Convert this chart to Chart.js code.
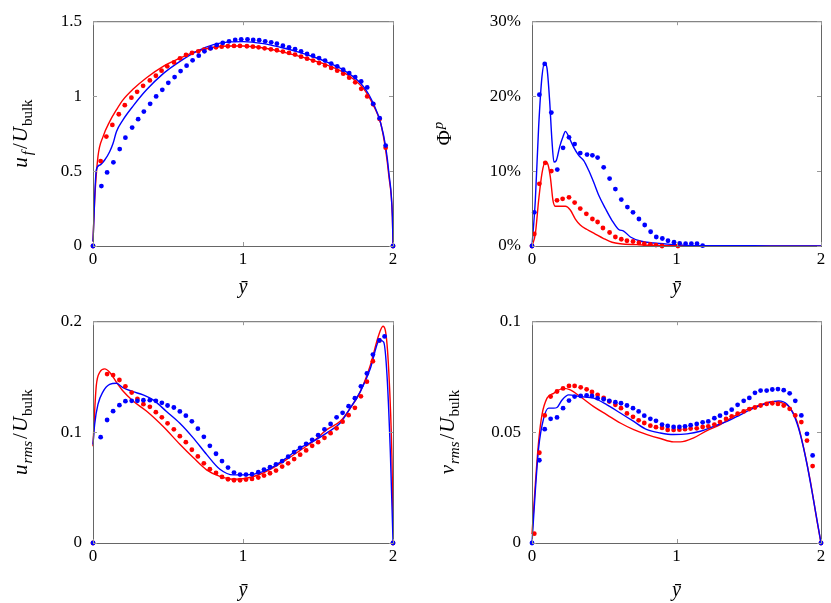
<!DOCTYPE html>
<html>
<head>
<meta charset="utf-8">
<script src="https://cdn.jsdelivr.net/npm/chart.js@4.4.1/dist/chart.umd.min.js"></script>
<style>
  body { margin: 0; background: #fff; }
  canvas { position: absolute; }
</style>
</head>
<body>
<canvas id="c1" width="420" height="300" style="left:0;top:0"></canvas>
<canvas id="c2" width="411" height="300" style="left:420px;top:0"></canvas>
<canvas id="c3" width="420" height="303" style="left:0;top:300px"></canvas>
<canvas id="c4" width="411" height="303" style="left:420px;top:300px"></canvas>
<script>
// ---- data, [ybar, value] ----
// mean velocity u_f/U_bulk
const ufRedLine = [[0,0.03],[0.011,0.306],[0.033,0.596],[0.067,0.73],[0.111,0.83],[0.156,0.908],[0.2,0.975],[0.268,1.047],[0.357,1.123],[0.468,1.199],[0.58,1.254],[0.691,1.299],[0.803,1.326],[0.914,1.335],[1.003,1.335],[1.137,1.321],[1.249,1.299],[1.36,1.27],[1.472,1.237],[1.583,1.199],[1.695,1.143],[1.806,1.047],[1.873,0.931],[1.918,0.819],[1.951,0.641],[1.973,0.462],[1.996,0.194],[2,0.02]];
const ufBlueLine = [[0,0.03],[0.022,0.507],[0.045,0.54],[0.078,0.574],[0.111,0.629],[0.134,0.685],[0.156,0.763],[0.2,0.842],[0.268,0.935],[0.357,1.042],[0.468,1.15],[0.58,1.232],[0.691,1.299],[0.803,1.344],[0.914,1.362],[1.003,1.364],[1.137,1.35],[1.249,1.326],[1.36,1.297],[1.472,1.261],[1.583,1.217],[1.695,1.158],[1.806,1.06],[1.873,0.942],[1.918,0.819],[1.951,0.663],[1.973,0.484],[1.996,0.194],[2,0.02]];
const ufRedDots = [[0,0],[0.051,0.567],[0.089,0.73],[0.129,0.808],[0.172,0.879],[0.212,0.94],[0.256,0.99],[0.294,1.029],[0.334,1.069],[0.379,1.105],[0.419,1.136],[0.457,1.17],[0.495,1.199],[0.54,1.225],[0.58,1.252],[0.62,1.275],[0.66,1.288],[0.702,1.299],[0.74,1.31],[0.78,1.319],[0.82,1.326],[0.858,1.33],[0.899,1.333],[0.94,1.335],[0.98,1.335],[1.026,1.333],[1.066,1.33],[1.104,1.326],[1.144,1.319],[1.186,1.312],[1.226,1.306],[1.266,1.297],[1.307,1.288],[1.347,1.277],[1.387,1.263],[1.427,1.25],[1.467,1.237],[1.507,1.221],[1.547,1.205],[1.588,1.188],[1.628,1.17],[1.668,1.15],[1.708,1.123],[1.748,1.092],[1.788,1.049],[1.828,0.998],[1.868,0.946],[1.911,0.848],[1.951,0.656],[2,0]];
const ufBlueDots = [[0,0],[0.056,0.4],[0.094,0.491],[0.136,0.558],[0.178,0.647],[0.216,0.723],[0.261,0.79],[0.301,0.846],[0.339,0.897],[0.381,0.949],[0.421,0.998],[0.462,1.042],[0.502,1.089],[0.544,1.127],[0.584,1.167],[0.624,1.203],[0.664,1.239],[0.705,1.27],[0.743,1.299],[0.785,1.319],[0.825,1.342],[0.865,1.355],[0.907,1.366],[0.948,1.375],[0.988,1.379],[1.03,1.379],[1.068,1.375],[1.108,1.373],[1.148,1.366],[1.188,1.359],[1.226,1.35],[1.266,1.337],[1.307,1.326],[1.347,1.313],[1.387,1.299],[1.427,1.281],[1.467,1.27],[1.507,1.254],[1.547,1.237],[1.588,1.217],[1.628,1.199],[1.668,1.176],[1.708,1.154],[1.748,1.127],[1.788,1.098],[1.828,1.058],[1.868,0.949],[1.911,0.853],[1.951,0.67],[2,0]];

// particle volume fraction Phi^p (%)
const phiRedLine = [[0,0],[0.023,1.6],[0.046,6.1],[0.069,9.7],[0.092,11.2],[0.108,11.0],[0.127,9.2],[0.145,6.1],[0.162,5.3],[0.196,5.3],[0.231,5.3],[0.265,4.8],[0.3,3.6],[0.334,2.8],[0.381,2.2],[0.438,1.6],[0.496,1.0],[0.554,0.5],[0.611,0.3],[0.727,0.18],[0.842,0.09],[1.073,0.04],[1.5,0.02],[2,0]];
const phiBlueLine = [[0,0],[0.023,6.1],[0.046,15.9],[0.069,22.6],[0.088,24.4],[0.104,23.7],[0.122,19.4],[0.138,14.1],[0.152,11.2],[0.168,11.4],[0.191,13.2],[0.215,14.6],[0.231,15.3],[0.254,14.6],[0.288,13.2],[0.323,12.1],[0.358,11.4],[0.392,10.1],[0.427,8.5],[0.461,6.8],[0.508,5.0],[0.554,3.4],[0.6,2.2],[0.634,2.0],[0.681,1.2],[0.75,0.67],[0.842,0.4],[0.957,0.22],[1.073,0.09],[1.303,0.04],[1.534,0.04],[1.765,0],[2,0]];
const phiRedDots = [[0,0],[0.016,1.6],[0.051,8.3],[0.092,11.1],[0.134,10.0],[0.173,6.1],[0.212,6.3],[0.256,6.5],[0.295,5.8],[0.334,5.0],[0.376,4.3],[0.418,3.6],[0.454,3.2],[0.491,2.4],[0.537,1.8],[0.577,1.2],[0.618,0.9],[0.657,0.7],[0.699,0.6],[0.74,0.45],[0.777,0.3],[0.819,0.22],[0.858,0.13],[0.9,0],[1.01,0]];
const phiBlueDots = [[0,0],[0.016,4.5],[0.051,20.2],[0.088,24.3],[0.134,17.8],[0.175,10.2],[0.215,13.1],[0.256,14.5],[0.295,13.6],[0.334,12.4],[0.381,12.2],[0.418,12.1],[0.454,11.8],[0.496,10.5],[0.537,9.0],[0.577,7.6],[0.618,6.2],[0.66,5.2],[0.699,4.5],[0.74,3.6],[0.78,2.8],[0.821,1.9],[0.86,1.2],[0.902,1.0],[0.941,0.7],[0.983,0.5],[1.022,0.36],[1.063,0.3],[1.103,0.3],[1.142,0.3],[1.181,0.05]];

// streamwise fluctuation u_rms/U_bulk
const urmsRedLine = [[0,0.0873],[0.011,0.119],[0.022,0.142],[0.045,0.154],[0.078,0.157],[0.111,0.154],[0.156,0.145],[0.2,0.137],[0.267,0.128],[0.356,0.119],[0.468,0.105],[0.579,0.089],[0.668,0.077],[0.757,0.066],[0.846,0.06],[0.935,0.0575],[1.024,0.0584],[1.114,0.062],[1.203,0.068],[1.292,0.0754],[1.381,0.0835],[1.47,0.0918],[1.559,0.1022],[1.648,0.1097],[1.715,0.1216],[1.782,0.1365],[1.849,0.1604],[1.904,0.1872],[1.933,0.1955],[1.949,0.1917],[1.971,0.157],[1.993,0.0769],[2,0.0188]];
const urmsBlueLine = [[0,0.0888],[0.011,0.107],[0.033,0.125],[0.067,0.1365],[0.111,0.143],[0.156,0.144],[0.2,0.14],[0.267,0.1365],[0.334,0.1335],[0.401,0.129],[0.49,0.1186],[0.579,0.108],[0.668,0.0948],[0.757,0.0799],[0.846,0.0665],[0.935,0.0614],[1.024,0.0614],[1.114,0.0635],[1.203,0.0689],[1.292,0.0769],[1.381,0.0858],[1.47,0.0918],[1.559,0.0993],[1.648,0.1082],[1.715,0.1216],[1.782,0.1365],[1.849,0.1574],[1.9,0.1812],[1.915,0.1827],[1.938,0.1812],[1.96,0.1514],[1.982,0.0829],[2,0.002]];
const urmsRedDots = [[0,0],[0.094,0.1523],[0.134,0.1514],[0.176,0.147],[0.216,0.1413],[0.258,0.1356],[0.296,0.13],[0.336,0.1252],[0.379,0.1228],[0.419,0.118],[0.459,0.1133],[0.497,0.1079],[0.539,0.1025],[0.579,0.0963],[0.619,0.0909],[0.659,0.0841],[0.699,0.0781],[0.739,0.0718],[0.779,0.0665],[0.82,0.0632],[0.86,0.0596],[0.9,0.0575],[0.94,0.0566],[0.98,0.0566],[1.02,0.0572],[1.06,0.0578],[1.102,0.059],[1.14,0.0608],[1.18,0.0629],[1.22,0.0653],[1.261,0.0689],[1.301,0.0718],[1.341,0.0757],[1.381,0.0796],[1.421,0.0835],[1.461,0.0876],[1.501,0.0909],[1.543,0.0948],[1.584,0.099],[1.624,0.1034],[1.664,0.1094],[1.704,0.1153],[1.746,0.1219],[1.786,0.1323],[1.826,0.1455],[1.866,0.1639],[1.909,0.1827],[2,0]];
const urmsBlueDots = [[0,0],[0.051,0.0954],[0.094,0.1109],[0.134,0.1189],[0.176,0.1243],[0.216,0.1279],[0.258,0.1282],[0.296,0.1282],[0.336,0.1288],[0.379,0.1288],[0.419,0.1282],[0.459,0.1264],[0.497,0.124],[0.539,0.1222],[0.579,0.1186],[0.619,0.1148],[0.659,0.1097],[0.699,0.1031],[0.739,0.0957],[0.779,0.0876],[0.82,0.0805],[0.86,0.0739],[0.9,0.068],[0.94,0.0635],[0.98,0.0617],[1.02,0.0617],[1.06,0.062],[1.102,0.0638],[1.14,0.0662],[1.18,0.0683],[1.22,0.0709],[1.261,0.0739],[1.301,0.0778],[1.341,0.082],[1.381,0.0858],[1.421,0.0894],[1.461,0.093],[1.501,0.0972],[1.543,0.1025],[1.584,0.1073],[1.624,0.1133],[1.664,0.1174],[1.704,0.1234],[1.746,0.1306],[1.786,0.1413],[1.826,0.1529],[1.866,0.1699],[1.909,0.1827],[1.944,0.1863],[2,0]];

// wall-normal fluctuation v_rms/U_bulk
const vrmsRedLine = [[0,0.004],[0.023,0.0265],[0.046,0.0459],[0.069,0.0578],[0.104,0.0653],[0.15,0.0675],[0.219,0.0697],[0.265,0.069],[0.334,0.066],[0.427,0.0615],[0.519,0.0578],[0.611,0.0541],[0.704,0.0511],[0.796,0.0489],[0.888,0.0471],[0.98,0.0456],[1.027,0.0456],[1.119,0.0474],[1.211,0.0507],[1.303,0.0534],[1.396,0.0571],[1.488,0.0601],[1.58,0.0623],[1.672,0.0638],[1.742,0.063],[1.788,0.0608],[1.834,0.0548],[1.88,0.0429],[1.926,0.028],[1.972,0.0101],[2,0]];
const vrmsBlueLine = [[0,0],[0.023,0.0235],[0.046,0.0429],[0.081,0.0563],[0.115,0.0608],[0.15,0.0608],[0.173,0.0611],[0.208,0.0645],[0.254,0.0668],[0.334,0.066],[0.427,0.0653],[0.519,0.0623],[0.611,0.0586],[0.704,0.0548],[0.796,0.0511],[0.888,0.0496],[0.98,0.0489],[1.073,0.0492],[1.165,0.0504],[1.257,0.0526],[1.349,0.0548],[1.442,0.0578],[1.534,0.0608],[1.626,0.063],[1.707,0.0641],[1.765,0.0626],[1.811,0.0578],[1.857,0.0489],[1.903,0.0355],[1.949,0.0191],[2,0]];
const vrmsRedDots = [[0.016,0.0042],[0.051,0.0407],[0.088,0.0575],[0.129,0.066],[0.173,0.0683],[0.215,0.0697],[0.256,0.0708],[0.295,0.0708],[0.337,0.0702],[0.378,0.0693],[0.415,0.0681],[0.454,0.0668],[0.496,0.0654],[0.535,0.0638],[0.577,0.0623],[0.616,0.0608],[0.657,0.0584],[0.699,0.0569],[0.738,0.0553],[0.777,0.0541],[0.819,0.0529],[0.858,0.0522],[0.9,0.0519],[0.939,0.051],[0.98,0.051],[1.02,0.0511],[1.059,0.0513],[1.098,0.0516],[1.14,0.0517],[1.181,0.0523],[1.22,0.0526],[1.262,0.0534],[1.301,0.0545],[1.343,0.0559],[1.382,0.0571],[1.423,0.0583],[1.465,0.0593],[1.504,0.0604],[1.543,0.0611],[1.582,0.062],[1.624,0.0627],[1.663,0.063],[1.702,0.0627],[1.742,0.062],[1.783,0.0605],[1.822,0.0575],[1.864,0.0545],[1.903,0.0462],[1.942,0.0347],[2,0]];
const vrmsBlueDots = [[0,0],[0.051,0.0373],[0.088,0.0513],[0.129,0.056],[0.173,0.0566],[0.215,0.0608],[0.256,0.0642],[0.295,0.066],[0.337,0.0663],[0.378,0.0666],[0.415,0.0663],[0.454,0.0653],[0.496,0.0648],[0.535,0.0641],[0.577,0.0635],[0.616,0.063],[0.657,0.062],[0.699,0.0608],[0.738,0.0593],[0.777,0.0574],[0.819,0.056],[0.858,0.0551],[0.9,0.0534],[0.939,0.0528],[0.98,0.0523],[1.02,0.0523],[1.059,0.0526],[1.098,0.0531],[1.14,0.0537],[1.181,0.0544],[1.22,0.0548],[1.262,0.0563],[1.301,0.0574],[1.343,0.0586],[1.382,0.0601],[1.423,0.0623],[1.465,0.0641],[1.504,0.0654],[1.543,0.0677],[1.582,0.0687],[1.624,0.0687],[1.663,0.0692],[1.702,0.0694],[1.742,0.0689],[1.783,0.0675],[1.822,0.0641],[1.864,0.0575],[1.903,0.0492],[1.942,0.0395],[2,0]];

const xTicks = [0, 1, 2];
const ufTicks = [0, 0.5, 1, 1.5];
const phiTicks = [0, 10, 20, 30];
const urmsTicks = [0, 0.1, 0.2];
const vrmsTicks = [0, 0.05, 0.1];

// ---- styling ----
const RED = '#ff0000', BLUE = '#0000ff';
const SERIF = '"Liberation Serif", "DejaVu Serif", serif';
Chart.defaults.font.family = SERIF;
Chart.defaults.font.size = 17;
Chart.defaults.color = '#000';

const toXY = arr => arr.map(p => ({ x: p[0], y: p[1] }));

// draws a label made of pieces (italic / subscript / superscript)
function drawRich(ctx, segs, cx, cy, rotate, size) {
  const fontOf = s => (s.it ? 'italic ' : '') + Math.round(s.sub || s.sup ? size * 0.7 : size) + 'px ' + SERIF;
  ctx.save();
  ctx.translate(cx, cy);
  if (rotate) ctx.rotate(-Math.PI / 2);
  let total = 0;
  const widths = segs.map(s => {
    ctx.font = fontOf(s);
    const w = ctx.measureText(s.t).width + (s.gap || 0);
    total += w;
    return w;
  });
  let x = -total / 2;
  ctx.fillStyle = '#000';
  ctx.textBaseline = 'alphabetic';
  segs.forEach((s, i) => {
    ctx.font = fontOf(s);
    const dy = s.sub ? size * 0.25 : s.sup ? -size * 0.4 : 0;
    ctx.fillText(s.t, x + (s.pre || 0), size * 0.33 + dy);
    x += widths[i];
  });
  ctx.restore();
}

// frame with inward ticks on all four sides + axis titles
const framePlugin = {
  id: 'frame',
  afterDraw(chart, args, opts) {
    const { ctx, chartArea: a, scales } = chart;
    ctx.save();
    ctx.strokeStyle = '#666';
    ctx.lineWidth = 1;
    ctx.strokeRect(a.left + 0.5, a.top + 0.5, a.right - a.left, a.bottom - a.top);
    ctx.strokeStyle = '#999';
    ctx.beginPath();
    scales.x.ticks.forEach(t => {
      const px = Math.round(scales.x.getPixelForValue(t.value)) + 0.5;
      ctx.moveTo(px, a.bottom); ctx.lineTo(px, a.bottom - 4);
      ctx.moveTo(px, a.top); ctx.lineTo(px, a.top + 4);
    });
    scales.y.ticks.forEach(t => {
      const py = Math.round(scales.y.getPixelForValue(t.value)) + 0.5;
      ctx.moveTo(a.left, py); ctx.lineTo(a.left + 4, py);
      ctx.moveTo(a.right, py); ctx.lineTo(a.right - 4, py);
    });
    ctx.stroke();
    ctx.restore();
    drawRich(ctx, [{ t: 'ȳ', it: true }], (a.left + a.right) / 2, opts.xTitleY, false, 20);
    drawRich(ctx, opts.yTitle, opts.yTitleX, (a.top + a.bottom) / 2, true, 21);
  }
};

function makeChart(id, box, area, yMax, yTicks, yFmt, series, yTitle, yTitleX) {
  const line = (d, c) => ({ data: toXY(d), showLine: true, borderColor: c, borderWidth: 1.4, pointRadius: 0, cubicInterpolationMode: 'monotone', clip: false });
  const dots = (d, c) => ({ data: toXY(d), showLine: false, backgroundColor: c, borderWidth: 0, pointRadius: 2.4, clip: false });
  return new Chart(document.getElementById(id), {
    type: 'scatter',
    data: {
      datasets: [
        dots(series[3], BLUE),
        dots(series[2], RED),
        line(series[1], BLUE),
        line(series[0], RED)
      ]
    },
    options: {
      responsive: false,
      animation: false,
      events: [],
      layout: { padding: { left: 0, top: area[1] - box[1], right: box[0] + box[2] - area[2], bottom: 0 } },
      plugins: {
        legend: { display: false },
        tooltip: { enabled: false },
        frame: { yTitle: yTitle, yTitleX: yTitleX, xTitleY: box[3] - 14 }
      },
      scales: {
        x: {
          type: 'linear', min: 0, max: 2,
          afterBuildTicks: s => { s.ticks = xTicks.map(v => ({ value: v })); },
          afterFit: s => { s.height = box[1] + box[3] - area[3]; },
          grid: { display: false, drawTicks: false },
          border: { display: false },
          ticks: { padding: 3 }
        },
        y: {
          type: 'linear', min: 0, max: yMax,
          afterBuildTicks: s => { s.ticks = yTicks.map(v => ({ value: v })); },
          afterFit: s => { s.width = area[0] - box[0]; },
          grid: { display: false, drawTicks: false },
          border: { display: false },
          ticks: { padding: 11, callback: yFmt }
        }
      }
    },
    plugins: [framePlugin]
  });
}

const plain = v => String(v);
const pct = v => v + '%';

makeChart('c1', [0, 0, 420, 300], [93, 21, 393, 246], 1.5, ufTicks, plain,
  [ufRedLine, ufBlueLine, ufRedDots, ufBlueDots],
  [{ t: 'u', it: true, gap: 1 }, { t: 'f', it: true, sub: true, pre: 1, gap: 3 }, { t: '/', gap: 1 }, { t: 'U', it: true, gap: 1 }, { t: 'bulk', sub: true }], 20);

makeChart('c2', [420, 0, 411, 300], [532, 21, 821, 246], 30, phiTicks, pct,
  [phiRedLine, phiBlueLine, phiRedDots, phiBlueDots],
  [{ t: 'Φ', gap: 1 }, { t: 'p', it: true, sup: true }], 24);

makeChart('c3', [0, 300, 420, 303], [93, 319, 393, 543], 0.2, urmsTicks, plain,
  [urmsRedLine, urmsBlueLine, urmsRedDots, urmsBlueDots],
  [{ t: 'u', it: true, gap: 1 }, { t: 'rms', it: true, sub: true, gap: 2 }, { t: '/', gap: 1 }, { t: 'U', it: true, gap: 1 }, { t: 'bulk', sub: true }], 20);

makeChart('c4', [420, 300, 411, 303], [532, 319, 821, 543], 0.1, vrmsTicks, plain,
  [vrmsRedLine, vrmsBlueLine, vrmsRedDots, vrmsBlueDots],
  [{ t: 'v', it: true, gap: 1 }, { t: 'rms', it: true, sub: true, gap: 2 }, { t: '/', gap: 1 }, { t: 'U', it: true, gap: 1 }, { t: 'bulk', sub: true }], 27);
</script>
</body>
</html>
